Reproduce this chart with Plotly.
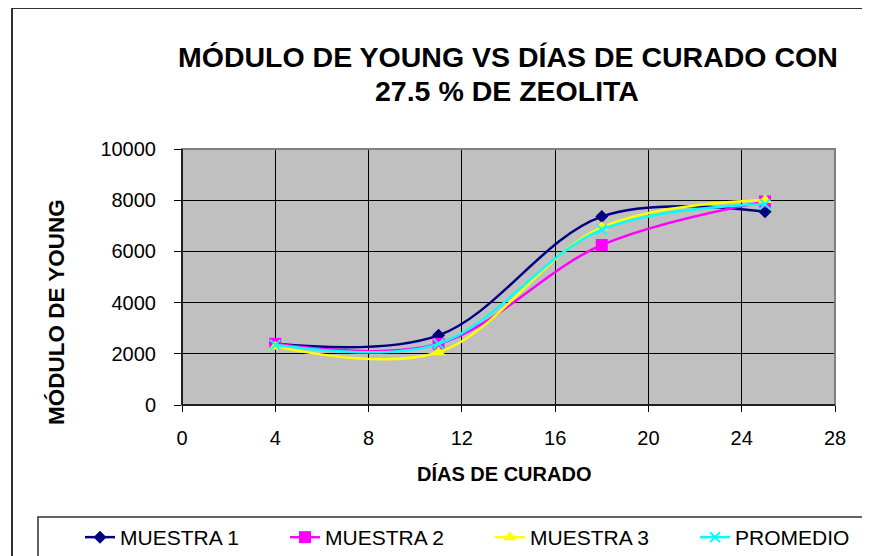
import plotly.graph_objects as go

dias = [4, 11, 18, 25]
muestra1 = [2390, 2720, 7360, 7550]
muestra2 = [2390, 2390, 6250, 7950]
muestra3 = [2280, 2060, 6940, 8010]
promedio = [2350, 2390, 6850, 7840]

x_ticks = [0, 4, 8, 12, 16, 20, 24, 28]
y_ticks = [0, 2000, 4000, 6000, 8000, 10000]

titulo_1 = "MÓDULO DE YOUNG VS DÍAS DE CURADO CON"
titulo_2 = "27.5 % DE ZEOLITA"

FONT = "Liberation Sans, Arial, sans-serif"

W, H = 870, 556
OFF = 8  # page offset of the figure inside the browser window
L, T = 182 - OFF, 149 - OFF
PW, PH = 653, 256
R = W - L - PW
B = H - T - PH

def px_x(sx):
    return (sx - OFF - L) / PW

def px_y(sy):
    return (H - B - (sy - OFF)) / PH

fig = go.Figure()

series = [
    ("MUESTRA 1", muestra1, "#000080", dict(symbol="diamond", size=10, color="#000080")),
    ("MUESTRA 2", muestra2, "#FF00FF", dict(symbol="square", size=12, color="#FF00FF")),
    ("MUESTRA 3", muestra3, "#FFFF00", dict(symbol="triangle-up", size=12, color="#FFFF00")),
    ("PROMEDIO", promedio, "#00FFFF", dict(symbol="x-thin", size=10, color="#00FFFF",
                                           line=dict(color="#00FFFF", width=2))),
]

for name, vals, col, mk in series:
    fig.add_trace(go.Scatter(
        x=dias, y=vals, name=name, mode="lines+markers",
        line=dict(color=col, width=2.5, shape="spline", smoothing=1.0),
        marker=mk,
    ))

fig.update_layout(
    width=W, height=H,
    margin=dict(l=L, r=R, t=T, b=B, autoexpand=False),
    paper_bgcolor="white",
    plot_bgcolor="#C0C0C0",
    font=dict(family=FONT, color="black"),
    xaxis=dict(
        range=[0, 28], tickvals=x_ticks, ticktext=[str(v) for v in x_ticks],
        showgrid=True, gridcolor="black", gridwidth=1,
        showline=True, linecolor="black", linewidth=1,
        ticks="outside", ticklen=6, tickcolor="black",
        tickfont=dict(size=20, family=FONT),
        ticklabelstandoff=9,
        zeroline=False,
    ),
    yaxis=dict(
        range=[0, 10000], tickvals=y_ticks, ticktext=[str(v) for v in y_ticks],
        showgrid=True, gridcolor="black", gridwidth=1,
        showline=True, linecolor="black", linewidth=1,
        ticks="outside", ticklen=7, tickcolor="black",
        tickfont=dict(size=20, family=FONT),
        ticklabelstandoff=14,
        zeroline=False,
    ),
    legend=dict(
        orientation="h",
        x=px_x(80), y=px_y(517), xanchor="left", yanchor="top",
        borderwidth=0, bgcolor="rgba(0,0,0,0)",
        font=dict(size=21, family=FONT),
        entrywidth=160, entrywidthmode="pixels",
        traceorder="normal",
    ),
    showlegend=True,
)

# title lines
fig.add_annotation(text="<b>" + titulo_1 + "</b>", xref="paper", yref="paper",
                   x=px_x(508), y=px_y(57), showarrow=False,
                   font=dict(size=28.5, family=FONT, color="black"),
                   xanchor="center", yanchor="middle")
fig.add_annotation(text="<b>" + titulo_2 + "</b>", xref="paper", yref="paper",
                   x=px_x(507), y=px_y(91), showarrow=False,
                   font=dict(size=28.5, family=FONT, color="black"),
                   xanchor="center", yanchor="middle")

# axis titles as annotations (placed like the original)
fig.add_annotation(text="<b>DÍAS DE CURADO</b>", xref="paper", yref="paper",
                   x=px_x(504), y=px_y(474), showarrow=False,
                   font=dict(size=20, family=FONT, color="black"),
                   xanchor="center", yanchor="middle")
fig.add_annotation(text="<b>MÓDULO DE YOUNG</b>", xref="paper", yref="paper",
                   x=px_x(56), y=px_y(312), showarrow=False, textangle=-90,
                   font=dict(size=22.5, family=FONT, color="black"),
                   xanchor="center", yanchor="middle")

# plot-area border (gray top/right)
fig.add_shape(type="rect", xref="paper", yref="paper", x0=0, x1=1, y0=0, y1=1,
              line=dict(color="#808080", width=2), layer="above")
fig.add_shape(type="line", xref="paper", yref="paper", x0=0, x1=0, y0=0, y1=1,
              line=dict(color="black", width=1.5), layer="above")
fig.add_shape(type="line", xref="paper", yref="paper", x0=0, x1=1, y0=0, y1=0,
              line=dict(color="black", width=1.5), layer="above")
# chart outer border
fig.add_shape(type="rect", xref="paper", yref="paper",
              x0=px_x(12), x1=px_x(900), y0=px_y(600), y1=px_y(8),
              line=dict(color="#303030", width=2), layer="below")
# legend box
fig.add_shape(type="rect", xref="paper", yref="paper",
              x0=px_x(38), x1=px_x(900), y0=px_y(600), y1=px_y(517),
              line=dict(color="#303030", width=1.5), layer="below")

fig.write_html("out.html")
